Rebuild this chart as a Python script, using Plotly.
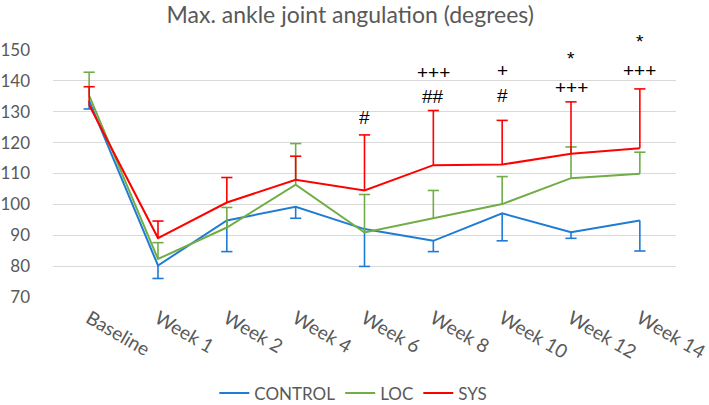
import plotly.graph_objects as go

categories = ["Baseline", "Week 1", "Week 2", "Week 4", "Week 6", "Week 8", "Week 10", "Week 12", "Week 14"]

control = [133.5, 80.2, 94.8, 99.2, 92.0, 88.2, 97.1, 91.0, 94.8]
control_err_minus = [2.6, 4.2, 10.1, 3.7, 12.1, 3.5, 8.9, 2.0, 9.9]

loc = [135.2, 82.3, 92.5, 106.4, 90.9, 95.4, 100.1, 108.5, 109.9]
loc_err_plus = [7.6, 5.3, 6.5, 13.3, 12.3, 9.1, 8.9, 10.1, 7.0]

sys_ = [132.2, 89.1, 100.6, 108.0, 104.5, 112.7, 112.9, 116.4, 118.2]
sys_err_plus = [5.9, 5.5, 8.1, 7.6, 18.0, 17.7, 14.3, 16.8, 19.2]

sig_cats = ["Week 6", "Week 8", "Week 8", "Week 10", "Week 10", "Week 12", "Week 12", "Week 14", "Week 14"]
sig_text = ["#", "+++", "##", "+", "#", "*", "+++", "*", "+++"]
sig_y = [128.0, 142.8, 134.9, 143.5, 135.2, 147.3, 137.9, 152.7, 143.3]

Y_MIN, Y_MAX = 70, 150

BLUE = "#1f7bd6"
GREEN = "#70ad47"
RED = "#ff0000"
GREY = "#595959"
FONT = "Lato"

fig = go.Figure()

def add_series(name, vals, color, plus=None, minus=None):
    if plus is not None:
        ends = [v + e for v, e in zip(vals, plus)]
        err = dict(type="data", symmetric=False, array=plus, arrayminus=[0] * len(vals),
                   color=color, thickness=1.6, width=0)
    else:
        ends = [v - e for v, e in zip(vals, minus)]
        err = dict(type="data", symmetric=False, array=[0] * len(vals), arrayminus=minus,
                   color=color, thickness=1.6, width=0)
    fig.add_trace(go.Scatter(x=categories, y=vals, name=name, mode="lines",
                             line=dict(color=color, width=2), error_y=err))
    fig.add_trace(go.Scatter(x=categories, y=ends, mode="markers", showlegend=False,
                             hoverinfo="skip", cliponaxis=False,
                             marker=dict(symbol="line-ew-open", size=8, color=color,
                                         line=dict(color=color, width=1.6))))

add_series("CONTROL", control, BLUE, minus=control_err_minus)
add_series("LOC", loc, GREEN, plus=loc_err_plus)
add_series("SYS", sys_, RED, plus=sys_err_plus)

for c, t, yv in zip(sig_cats, sig_text, sig_y):
    fig.add_annotation(x=c, y=(yv - Y_MIN) / (Y_MAX - Y_MIN), xref="x", yref="paper",
                       xanchor="center", yanchor="middle",
                       text=t, showarrow=False,
                       font=dict(family="Liberation Sans", size=19, color="#000000"))

fig.update_layout(
    width=709, height=405,
    margin=dict(l=53, r=33, t=50, b=108, autoexpand=False),
    paper_bgcolor="white", plot_bgcolor="white",
    font=dict(family=FONT, color=GREY),
    title=dict(text="Max. ankle joint angulation (degrees)", x=0.494, xanchor="center",
               y=0.962, yanchor="middle", font=dict(family=FONT, size=23, color=GREY)),
    showlegend=True,
    legend=dict(orientation="h", x=0.482, xanchor="center", y=-0.39, yanchor="middle",
                font=dict(family=FONT, size=17, color=GREY), itemwidth=30,
                traceorder="normal"),
)
fig.update_xaxes(type="category", tickangle=30, tickfont=dict(family=FONT, size=19, color=GREY),
                 showgrid=False, showline=False, ticks="", zeroline=False, automargin=False,
                 ticklabelstandoff=6)
fig.update_yaxes(range=[Y_MIN, Y_MAX], dtick=10, tickfont=dict(family=FONT, size=17, color=GREY),
                 showgrid=True, gridcolor="#d9d9d9", gridwidth=1.3, zeroline=False,
                 showline=False, ticks="", ticklabelstandoff=22, automargin=False)

fig.write_html("out.html")
